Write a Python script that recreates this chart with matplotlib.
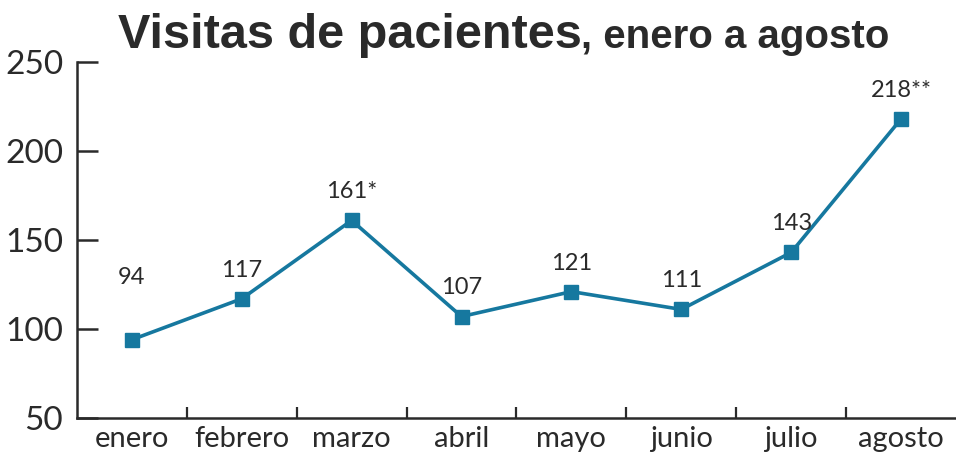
import matplotlib as mpl, matplotlib.pyplot as plt
import numpy as np

# ---- datos ----
meses=["enero","febrero","marzo","abril","mayo","junio","julio","agosto"]
visitas=[94,117,161,107,121,111,143,218]
notas=["","","*","","","","","**"]
y_ticks=[50,100,150,200,250]

LINE="#16789f"; TXT="#2a2a2a"
mpl.rcParams.update({"font.family":["Lato","DejaVu Sans"],"font.weight":"normal"})
lbl_off={0:37}   # desplazamiento vertical (pt) especial para "94"

fig=plt.figure(figsize=(9.56,4.59),dpi=100)
ax=fig.add_axes([0.0805,0.0893,0.9195,0.7757])
x=np.arange(len(meses))
ax.plot(x,visitas,color=LINE,lw=2.6,marker="s",ms=10,mec=LINE,mfc=LINE,zorder=3)
for i,(v,n) in enumerate(zip(visitas,notas)):
    ax.annotate(f"{v}{n}",(i,v),xytext=(0,lbl_off.get(i,13)),textcoords="offset points",
                ha="center",va="bottom",fontsize=17,color=TXT)

ax.set_xlim(-0.5,len(meses)-0.5); ax.set_ylim(50,250)
ax.set_yticks(y_ticks); ax.set_yticklabels([str(t) for t in y_ticks],fontsize=24,color=TXT)
ax.set_xticks(x); ax.set_xticklabels(meses,fontsize=21,color=TXT)
ax.set_xticks(x[:-1]+0.5,minor=True)
ax.tick_params(axis="x",which="major",length=0,pad=6)
ax.tick_params(axis="x",which="minor",direction="in",length=8,width=1.6,color=TXT)
ax.tick_params(axis="y",direction="in",length=15,width=1.8,color=TXT,pad=10)
for s in ["top","right"]: ax.spines[s].set_visible(False)
for s in ["left","bottom"]: ax.spines[s].set_linewidth(1.8); ax.spines[s].set_color(TXT)

tf=["Liberation Sans","DejaVu Sans"]
t1=fig.text(0.123,0.895,"Visitas de pacientes",fontsize=35,fontweight="bold",family=tf,color=TXT,va="baseline")
fig.canvas.draw()
bb=t1.get_window_extent()
fig.text(bb.x1/fig.bbox.width,0.895,", enero a agosto",fontsize=29,fontweight="bold",family=tf,color=TXT,va="baseline")
fig.savefig("out.png",dpi=100)
